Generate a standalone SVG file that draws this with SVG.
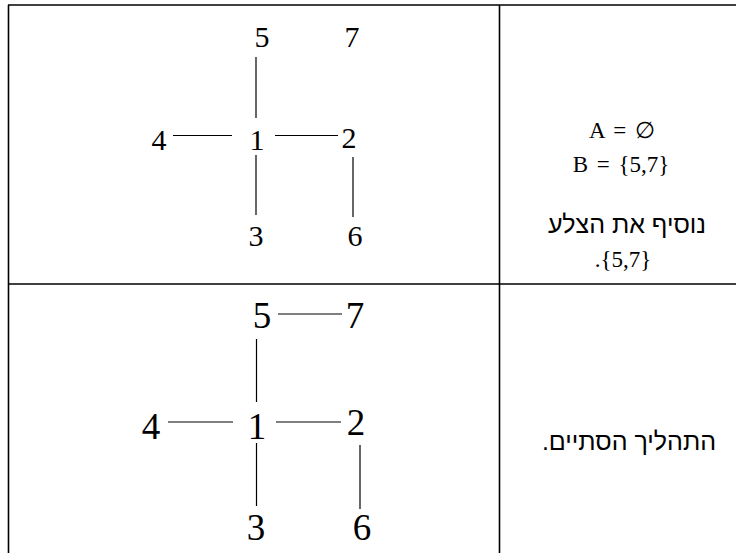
<svg xmlns="http://www.w3.org/2000/svg" width="736" height="553" viewBox="0 0 736 553">
<style>
.grid{stroke:#000;stroke-width:1.6;fill:none}
.edge{stroke:#000;stroke-width:1.2;fill:none}
.n1{font-family:"Liberation Serif","Times New Roman",serif;font-size:30px;fill:#000;text-anchor:middle}
.n2{font-family:"Liberation Serif","Times New Roman",serif;font-size:37px;fill:#000;text-anchor:middle}
.t{font-family:"Liberation Serif","Times New Roman",serif;font-size:23px;fill:#000;text-anchor:middle}
.heb{font-family:"Liberation Sans","DejaVu Sans",Arial,sans-serif;font-size:25px;fill:#000;text-anchor:middle}
</style>
<rect width="736" height="553" fill="#fff"/>
<g id="table" class="grid">
<line x1="8" y1="5" x2="736" y2="5"/>
<line x1="8.5" y1="5" x2="8.5" y2="553"/>
<line x1="499.5" y1="5" x2="499.5" y2="553"/>
<line x1="8" y1="284" x2="736" y2="284"/>
</g>
<g id="connectors" class="edge">
<line x1="256" y1="57" x2="256" y2="118"/>
<line x1="173" y1="135.5" x2="232" y2="135.5"/>
<line x1="275" y1="135.5" x2="338" y2="135.5"/>
<line x1="256" y1="155" x2="256" y2="215"/>
<line x1="353" y1="157" x2="353" y2="217"/>
<line x1="278" y1="314" x2="342" y2="314"/>
<line x1="256.5" y1="339" x2="256.5" y2="402"/>
<line x1="168" y1="422" x2="233" y2="422"/>
<line x1="276" y1="422" x2="341" y2="422"/>
<line x1="256.5" y1="443" x2="256.5" y2="506"/>
<line x1="360" y1="445" x2="360" y2="509"/>
</g>
<g id="top-nodes">
<g id="t5"><text class="n1" x="262" y="47">5</text></g>
<g id="t7"><text class="n1" x="352" y="47">7</text></g>
<g id="t4"><text class="n1" x="159" y="150">4</text></g>
<g id="t1"><text class="n1" x="257" y="150">1</text></g>
<g id="t2"><text class="n1" x="349" y="148">2</text></g>
<g id="t3"><text class="n1" x="256" y="246">3</text></g>
<g id="t6"><text class="n1" x="355" y="246">6</text></g>
</g>
<g id="bottom-nodes">
<g id="b5"><text class="n2" x="262" y="328">5</text></g>
<g id="b7"><text class="n2" x="355" y="328">7</text></g>
<g id="b4"><text class="n2" x="151" y="439">4</text></g>
<g id="b1"><text class="n2" x="257" y="439">1</text></g>
<g id="b2"><text class="n2" x="356" y="435">2</text></g>
<g id="b3"><text class="n2" x="256" y="540">3</text></g>
<g id="b6"><text class="n2" x="362" y="540">6</text></g>
</g>
<g id="notes">
<text class="t" x="622" y="138" word-spacing="3">A = ∅</text>
<text class="t" x="621" y="172" word-spacing="3">B = {5,7}</text>
<text class="heb" x="627" y="233" direction="rtl">נוסיף את הצלע</text>
<text class="t" x="623" y="267">.{5,7}</text>
<text class="heb" x="629" y="450" direction="rtl">התהליך הסתיים.</text>
</g>
</svg>
